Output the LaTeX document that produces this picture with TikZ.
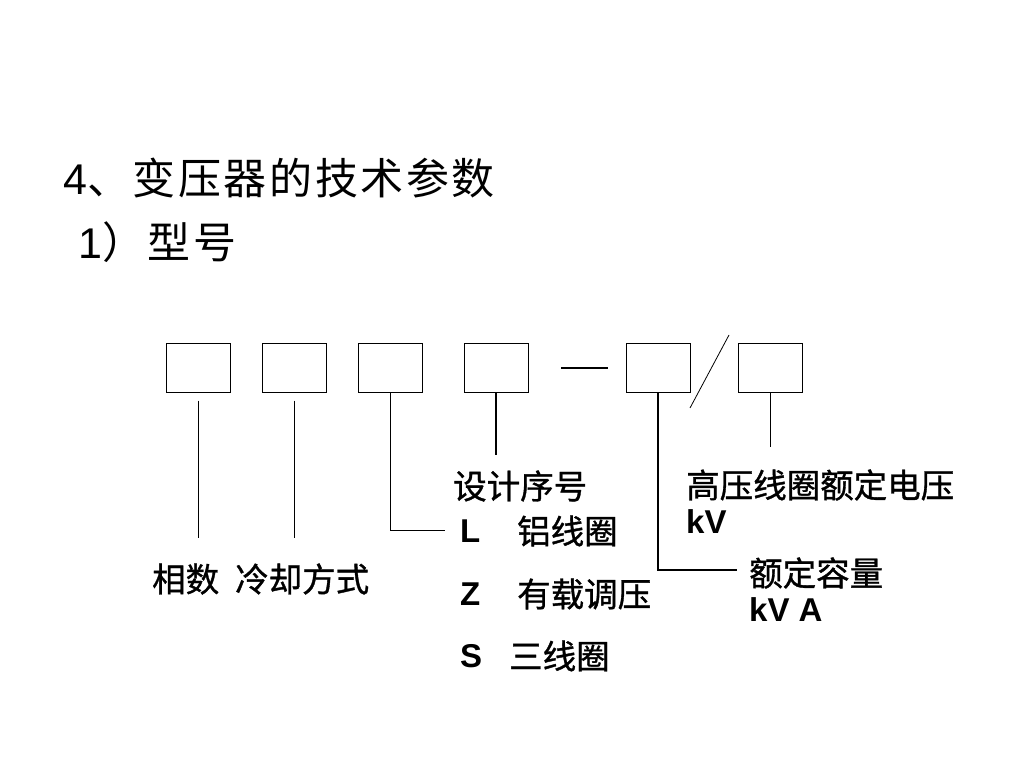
\documentclass[tikz,border=0pt]{standalone}
\usepackage{fontspec}
\setmainfont{Liberation Sans}
\newfontfamily\cjk{Noto Sans CJK SC}
\newfontfamily\cjkhead{Noto Sans CJK SC}[LetterSpace=6]
\newfontfamily\cjkdesc{Noto Sans CJK SC}[FakeBold=1]
\usepackage{tikz}

\begin{document}
\begin{tikzpicture}[x=1pt, y=1pt]
    \tikzstyle{slot} = [rectangle, draw=black, line width=1pt, minimum width=64pt, minimum height=49pt, inner sep=0pt]
    \tikzstyle{head} = [anchor=west, inner sep=0pt, font=\fontsize{43}{50}\selectfont]
    \tikzstyle{desc} = [anchor=west, inner sep=0pt, font=\fontsize{33.5}{40}\selectfont\cjkdesc]
    \tikzstyle{letter} = [anchor=west, inner sep=0pt, font=\fontsize{33}{40}\selectfont\bfseries]
    \tikzstyle{link} = [line width=1pt]
    \useasboundingbox (0,0) rectangle (1024,-768);

    % headings
    \node (title) [head] at (63,-178) {4{\cjkhead 、变压器的技术参数}};
    \node (sub) [head] at (78,-242) {1{\cjkhead ）型号}};

    % model code slots
    \node (b1) [slot] at (198,-367.5) {};
    \node (b2) [slot] at (294,-367.5) {};
    \node (b3) [slot] at (390,-367.5) {};
    \node (b4) [slot] at (496,-367.5) {};
    \node (b5) [slot] at (658,-367.5) {};
    \node (b6) [slot] at (770,-367.5) {};
    \draw [line width=1.6pt] (561,-368) -- (608,-368);
    \draw [line width=0.8pt] (690,-408) -- (729,-335);

    % labels
    \node (phase) [desc] at (152,-579) {相数\hspace{16pt}冷却方式};
    \node (serial) [desc] at (453,-486) {设计序号};
    \node (codeL) [letter] at (460,-531) {L};
    \node (textL) [desc] at (517,-531) {铝线圈};
    \node (codeZ) [letter] at (460,-594) {Z};
    \node (textZ) [desc] at (517,-594) {有载调压};
    \node (codeS) [letter] at (460,-656) {S};
    \node (textS) [desc] at (509,-656) {三线圈};
    \node (volt) [desc] at (686,-485) {高压线圈额定电压};
    \node (voltU) [letter] at (686,-522) {kV};
    \node (cap) [desc] at (749,-573) {额定容量};
    \node (capU) [letter] at (749,-610) {kV A};

    \coordinate (e1) at (198,-538);
    \coordinate (e2) at (294,-538);
    \coordinate (e3) at (445,-530);
    \coordinate (e4) at (496,-455);
    \coordinate (e5) at (737,-570);
    \coordinate (e6) at (770,-447);

    \draw [link] ([yshift=-8pt]b1.south) -- (e1);
    \draw [link] ([yshift=-8pt]b2.south) -- (e2);
    \draw [link] (b3.south) |- (e3);
    \draw [line width=1.4pt] (b4.south) -- (e4);
    \draw [line width=1.4pt] (b5.south) |- (e5);
    \draw [link] (b6.south) -- (e6);
\end{tikzpicture}
\end{document}
